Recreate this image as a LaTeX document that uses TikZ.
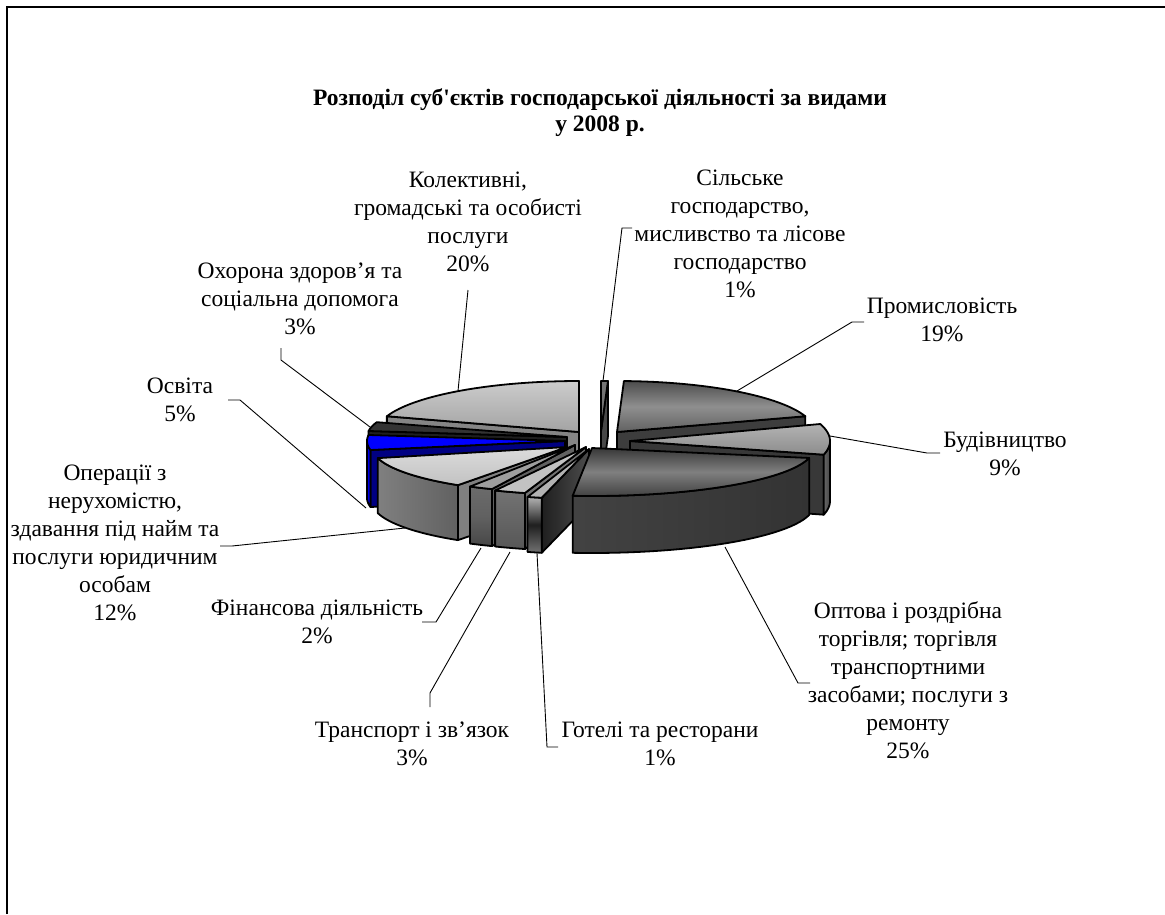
\documentclass[tikz,border=0pt]{standalone}
\usepackage{fontspec}
\setmainfont{Liberation Serif}
\newcommand{\lblfont}{\fontsize{23.5}{28}\selectfont}
\newcommand{\ttlfont}{\fontsize{23.5}{26}\selectfont\bfseries}
% top face: ax ay rx ry t1 t2 style
\newcommand{\slTop}[7]{\path[#7] (#1,-#2) -- plot[domain=#5:#6,samples=40] ({#1+#3*cos(\x)},{#4*sin(\x)-#2}) -- cycle;}
% outer wall: ax ay rx ry ta tb H style
\newcommand{\slWall}[8]{\path[#8] plot[domain=#5:#6,samples=30] ({#1+#3*cos(\x)},{#4*sin(\x)-#2}) -- plot[domain=#6:#5,samples=30] ({#1+#3*cos(\x)},{#4*sin(\x)-#2-#7}) -- cycle;}
% radial side face: ax ay rx ry t H style
\newcommand{\slSide}[7]{\path[#7] (#1,-#2) -- ({#1+#3*cos(#5)},{#4*sin(#5)-#2}) -- ({#1+#3*cos(#5)},{#4*sin(#5)-#2-#6}) -- (#1,{-#2-#6}) -- cycle;}
\definecolor{bluS}{RGB}{0,0,255}
\definecolor{bluW}{RGB}{0,0,225}
\definecolor{bluD}{RGB}{0,0,130}
\tikzset{
  edge/.style={draw=black,line width=1.8pt,line join=round},
  leader/.style={draw=black,line width=0.9pt},
  lbl/.style={font=\lblfont,align=center,inner sep=0pt},
}
\begin{document}
\begin{tikzpicture}[x=1pt,y=1pt]
\useasboundingbox (0,0) rectangle (1165,-914);
\fill[white] (0,0) rectangle (1165,-914);
% frame
\draw[line width=1.6pt] (7,-914) -- (7,-7) -- (1165,-7);

% ---- slices (back to front) ----
% Silske
\slSide{601}{431}{200}{50}{88}{55}{edge,fill=black!72}
\slTop{601}{431}{200}{50}{90}{88}{edge,fill=black!55}
% Kolektyvni
\slSide{579}{432}{202}{51}{162}{55}{edge,fill=black!48}
\slTop{579}{432}{202}{51}{162}{90}{edge,top color=black!20,bottom color=black!36}
% Promyslovist
\slSide{617}{432}{198}{51}{18}{55}{edge,fill=black!76}
\slTop{617}{432}{198}{51}{88}{18}{edge,top color=black!70,bottom color=black!62,middle color=black!44}
% Okhorona
\slSide{567}{437}{200}{48}{172.8}{57}{edge,fill=black!88}
\slTop{567}{437}{200}{48}{172.8}{162}{edge,fill=black!80}
% Budivnytstvo
\slSide{630}{441}{200}{55}{-14.4}{60}{edge,fill=black!78}
\slWall{630}{441}{200}{55}{0}{-14.4}{60}{edge,left color=black!60,right color=black!72}
\slTop{630}{441}{200}{55}{18}{-14.4}{edge,top color=black!30,bottom color=black!45}
% Osvita
\slSide{565}{441}{198}{48}{190.8}{57}{edge,fill=bluD}
\slWall{565}{441}{198}{48}{190.8}{180}{57}{edge,fill=bluW}
\slTop{565}{441}{198}{48}{190.8}{172.8}{edge,fill=bluS}
% Operatsii
\slSide{567}{447}{195}{46}{-124}{55}{edge,fill=black!50}
\slWall{567}{447}{195}{46}{-166}{-124}{55}{edge,left color=black!50,right color=black!62}
\slTop{567}{447}{195}{46}{-124}{-166}{edge,top color=black!14,bottom color=black!24}
% Finansova
\slSide{575}{445}{210}{48}{-113.3}{57}{edge,fill=black!62}
\slWall{575}{445}{210}{48}{-120}{-113.3}{57}{edge,top color=black!58,bottom color=black!72,middle color=black!62}
\slTop{575}{445}{210}{48}{-113.3}{-120}{edge,fill=black!38}
% Transport
\slSide{586}{447}{215}{48}{-106.5}{56}{edge,fill=black!55}
\slWall{586}{447}{215}{48}{-115}{-106.5}{56}{edge,top color=black!55,bottom color=black!66}
\slTop{586}{447}{215}{48}{-106.5}{-115}{edge,fill=black!24}
% Hoteli
\slSide{589}{449}{215}{50}{-102.7}{55}{edge,left color=black!88,right color=black!70}
\slWall{589}{449}{215}{50}{-106.6}{-102.7}{55}{edge,top color=black!30,bottom color=black!55,middle color=black!88}
\slTop{589}{449}{215}{50}{-102.7}{-106.6}{edge,fill=black!30}
% Optova
\slWall{592}{448}{222}{48}{-95}{-12}{57}{edge,left color=black!74,right color=black!80}
\slTop{592}{448}{222}{48}{-12}{-95}{edge,top color=black!78,bottom color=black!74,middle color=black!50}

% ---- title ----
\node[font=\ttlfont,align=center,inner sep=0pt] (title) at (600,-113) {Розподіл суб\textquotesingle єктів господарської діяльності за видами\\у 2008 р.};

% ---- labels ----
\node[lbl] (kol) at (468,-222) {Колективні,\\громадські та особисті\\послуги\\20\%};
\node[lbl] (sil) at (740,-234) {Сільське\\господарство,\\мисливство та лісове\\господарство\\1\%};
\node[lbl] (okh) at (300,-299) {Охорона здоров’я та\\соціальна допомога\\3\%};
\node[lbl] (pro) at (942,-319.5) {Промисловість\\19\%};
\node[lbl] (osv) at (180,-399.5) {Освіта\\5\%};
\node[lbl] (bud) at (1005,-453.5) {Будівництво\\9\%};
\node[lbl] (ope) at (115,-543) {Операції з\\нерухомістю,\\здавання під найм та\\послуги юридичним\\особам\\12\%};
\node[lbl] (fin) at (317,-622) {Фінансова діяльність\\2\%};
\node[lbl] (opt) at (908,-680.5) {Оптова і роздрібна\\торгівля; торгівля\\транспортними\\засобами; послуги з\\ремонту\\25\%};
\node[lbl] (tra) at (412,-744) {Транспорт і зв’язок\\3\%};
\node[lbl] (hot) at (660,-744) {Готелі та ресторани\\1\%};

% ---- leader points ----
\coordinate (kolA) at (468,-290); \coordinate (kolP) at (458,-391);
\coordinate (silA) at (632,-228); \coordinate (silB) at (622,-228); \coordinate (silP) at (603,-381);
\coordinate (okhA) at (281,-348); \coordinate (okhB) at (281,-360); \coordinate (okhP) at (370,-427);
\coordinate (proA) at (864,-322); \coordinate (proB) at (852,-322); \coordinate (proP) at (737,-391);
\coordinate (osvA) at (228,-400); \coordinate (osvB) at (240,-400); \coordinate (osvP) at (366,-508);
\coordinate (budA) at (940,-453); \coordinate (budB) at (927,-453); \coordinate (budP) at (830,-436);
\coordinate (opeA) at (220,-546); \coordinate (opeB) at (232,-546); \coordinate (opeP) at (405,-528);
\coordinate (finA) at (422,-622); \coordinate (finB) at (436,-622); \coordinate (finP) at (481,-548);
\coordinate (optA) at (810,-683); \coordinate (optB) at (798,-683); \coordinate (optP) at (725,-547);
\coordinate (traA) at (430,-707); \coordinate (traB) at (430,-693); \coordinate (traP) at (510,-552);
\coordinate (hotA) at (558,-747); \coordinate (hotB) at (547,-747); \coordinate (hotP) at (537,-553);

\draw[leader] (kolA) -- (kolP);
\draw[leader] (silA) -- (silB) -- (silP);
\draw[leader] (okhA) -- (okhB) -- (okhP);
\draw[leader] (proA) -- (proB) -- (proP);
\draw[leader] (osvA) -- (osvB) -- (osvP);
\draw[leader] (budA) -- (budB) -- (budP);
\draw[leader] (opeA) -- (opeB) -- (opeP);
\draw[leader] (finA) -- (finB) -- (finP);
\draw[leader] (optA) -- (optB) -- (optP);
\draw[leader] (traA) -- (traB) -- (traP);
\draw[leader] (hotA) -- (hotB) -- (hotP);
\end{tikzpicture}
\end{document}
